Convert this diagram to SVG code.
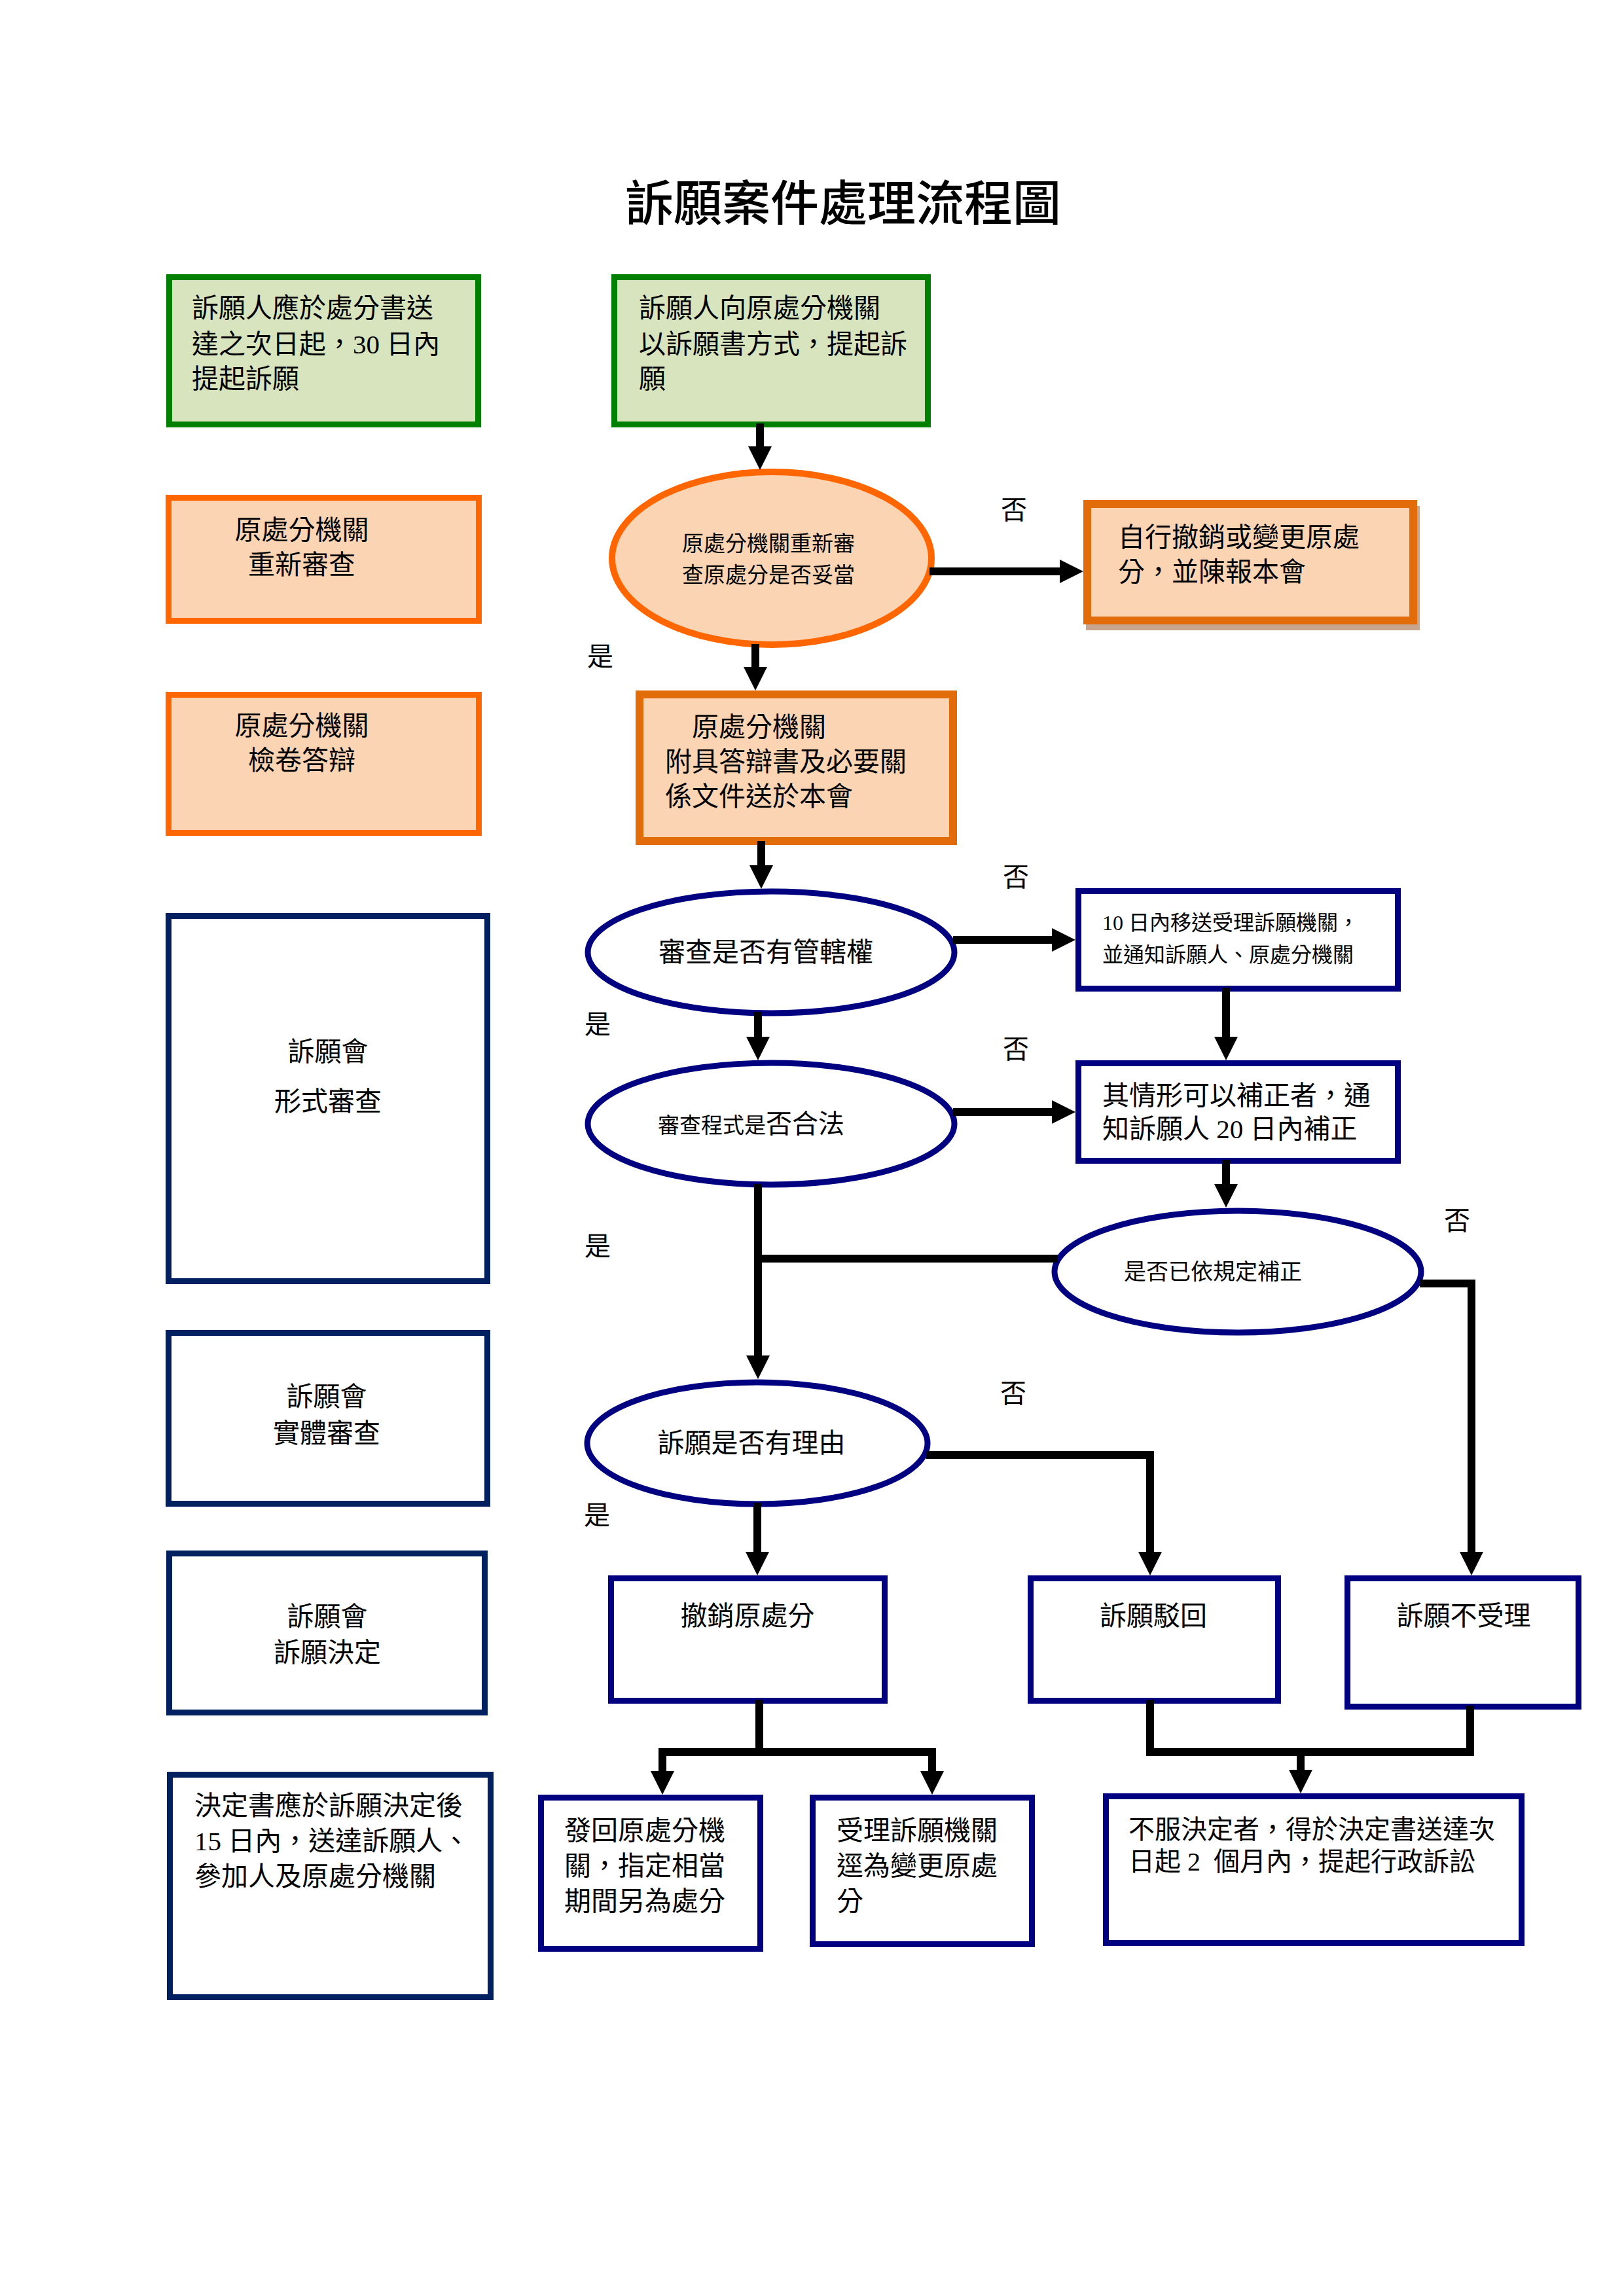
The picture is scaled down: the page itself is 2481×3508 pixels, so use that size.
<svg xmlns="http://www.w3.org/2000/svg" width="2481" height="3508" viewBox="0 0 2481 3508">
<style>
text{font-family:"Liberation Serif","Noto Sans CJK TC",serif;fill:#000}
.t41{font-size:41px}
.t33{font-size:33px}
.t32{font-size:32px}
.t40{font-size:40px}
.mid{text-anchor:middle}
.green{fill:#d7e4bd;stroke:#008000;stroke-width:9}
.org{fill:#fbd4b4;stroke:#ff6600;stroke-width:9}
.org2{fill:#fbd4b4;stroke:#e36c0a;stroke-width:12}
.navy{fill:#fff;stroke:#002060;stroke-width:9}
.blue{fill:#fff;stroke:#000080;stroke-width:9}
.conn{fill:none;stroke:#000;stroke-width:12;stroke-linecap:square;stroke-linejoin:miter}
</style>
<defs>
<marker id="ah" markerUnits="userSpaceOnUse" markerWidth="36" markerHeight="36" viewBox="0 0 36 36" refX="0" refY="18" orient="auto">
<path d="M0,0 L36,18 L0,36 z" fill="#000"/>
</marker>
</defs>
<rect width="2481" height="3508" fill="#fff"/>
<text x="1288" y="337" class="mid" style="font-size:74px;font-weight:500">訴願案件處理流程圖</text>

<g id="n-left-deadline">
<rect x="258.5" y="423.5" width="472" height="225" class="green"/>
<text class="t41" x="293" y="485">訴願人應於處分書送</text>
<text class="t41" x="293" y="540">達之次日起，30 日內</text>
<text class="t41" x="293" y="593">提起訴願</text>
</g>
<g id="n-file">
<rect x="938.5" y="423.5" width="479" height="225" class="green"/>
<text class="t41" x="976" y="485">訴願人向原處分機關</text>
<text class="t41" x="976" y="540">以訴願書方式，提起訴</text>
<text class="t41" x="976" y="593">願</text>
</g>
<g id="n-left-review">
<rect x="257.5" y="760.5" width="474" height="188" class="org"/>
<text class="t41 mid" x="461" y="824">原處分機關</text>
<text class="t41 mid" x="461" y="877">重新審查</text>
</g>
<g id="n-recheck">
<ellipse cx="1179" cy="853" rx="244" ry="132" fill="#fbd4b4" stroke="#ff6600" stroke-width="10"/>
<text class="t33 mid" x="1174" y="842">原處分機關重新審</text>
<text class="t33 mid" x="1174" y="890">查原處分是否妥當</text>
</g>
<g id="n-revoke-self">
<rect x="1659" y="773" width="510" height="190" fill="#c8a58f"/>
<rect x="1661" y="770" width="498" height="178" class="org2"/>
<text class="t41" x="1708" y="835">自行撤銷或變更原處</text>
<text class="t41" x="1708" y="888">分，並陳報本會</text>
</g>
<g id="n-left-answer">
<rect x="257.5" y="1061.5" width="474" height="211" class="org"/>
<text class="t41 mid" x="461" y="1123">原處分機關</text>
<text class="t41 mid" x="461" y="1176">檢卷答辯</text>
</g>
<g id="n-answer">
<rect x="977" y="1061" width="479" height="224" class="org2"/>
<text class="t41" x="1057" y="1125">原處分機關</text>
<text class="t41" x="1016" y="1178">附具答辯書及必要關</text>
<text class="t41" x="1016" y="1231">係文件送於本會</text>
</g>
<g id="n-left-formal">
<rect x="257.5" y="1399.5" width="487" height="558" class="navy"/>
<text class="t41 mid" x="501" y="1621">訴願會</text>
<text class="t41 mid" x="501" y="1697">形式審查</text>
</g>
<g id="n-jurisdiction">
<ellipse cx="1178" cy="1455" rx="280" ry="93" class="blue"/>
<text class="t41 mid" x="1170" y="1469">審查是否有管轄權</text>
</g>
<g id="n-transfer">
<rect x="1647.5" y="1361.5" width="488" height="149" class="blue"/>
<text class="t32" x="1684" y="1421">10 日內移送受理訴願機關，</text>
<text class="t32" x="1684" y="1470">並通知訴願人、原處分機關</text>
</g>
<g id="n-legal">
<ellipse cx="1178" cy="1717" rx="280" ry="93" class="blue"/>
<text x="1005" y="1731"><tspan style="font-size:33px">審查程式是</tspan><tspan style="font-size:40px">否合法</tspan></text>
</g>
<g id="n-correct">
<rect x="1647.5" y="1624.5" width="488" height="149" class="blue"/>
<text class="t41" x="1684" y="1688">其情形可以補正者，通</text>
<text class="t41" x="1684" y="1739">知訴願人 20 日內補正</text>
</g>
<g id="n-corrected">
<ellipse cx="1891" cy="1943" rx="280" ry="93" class="blue"/>
<text class="mid" style="font-size:34px" x="1853" y="1955">是否已依規定補正</text>
</g>
<g id="n-left-substance">
<rect x="257.5" y="2036.5" width="487" height="261" class="navy"/>
<text class="t41 mid" x="499" y="2148">訴願會</text>
<text class="t41 mid" x="499" y="2204">實體審查</text>
</g>
<g id="n-reason">
<ellipse cx="1157" cy="2205" rx="260" ry="93" class="blue"/>
<text class="t41 mid" x="1148" y="2219">訴願是否有理由</text>
</g>
<g id="n-left-decision">
<rect x="258.5" y="2373.5" width="482" height="243" class="navy"/>
<text class="t41 mid" x="500" y="2484">訴願會</text>
<text class="t41 mid" x="500" y="2539">訴願決定</text>
</g>
<g id="n-cancel">
<rect x="933.5" y="2411.5" width="418" height="187" class="blue"/>
<text class="t41 mid" x="1142" y="2483">撤銷原處分</text>
</g>
<g id="n-dismiss">
<rect x="1574.5" y="2411.5" width="378" height="187" class="blue"/>
<text class="t41 mid" x="1762" y="2483">訴願駁回</text>
</g>
<g id="n-reject">
<rect x="2058.5" y="2411.5" width="353" height="196" class="blue"/>
<text class="t41 mid" x="2236" y="2483">訴願不受理</text>
</g>
<g id="n-left-deliver">
<rect x="259.5" y="2711.5" width="490" height="340" class="navy"/>
<text class="t41" x="297" y="2773">決定書應於訴願決定後</text>
<text class="t41" x="297" y="2827">15 日內，送達訴願人、</text>
<text class="t41" x="297" y="2881">參加人及原處分機關</text>
</g>
<g id="n-return">
<rect x="826.5" y="2746.5" width="335" height="231" class="blue"/>
<text class="t41" x="862" y="2811">發回原處分機</text>
<text class="t41" x="862" y="2865">關，指定相當</text>
<text class="t41" x="862" y="2919">期間另為處分</text>
</g>
<g id="n-change">
<rect x="1241.5" y="2746.5" width="335" height="224" class="blue"/>
<text class="t41" x="1278" y="2811">受理訴願機關</text>
<text class="t41" x="1278" y="2865">逕為變更原處</text>
<text class="t41" x="1278" y="2919">分</text>
</g>
<g id="n-litigation">
<rect x="1689.5" y="2744.5" width="635" height="224" class="blue"/>
<text class="t40" x="1724" y="2809">不服決定者，得於決定書送達次</text>
<text class="t40" x="1724" y="2858">日起 2&#160; 個月內，提起行政訴訟</text>
</g>

<g id="connectors">
<path class="conn" d="M1161,653 V682" marker-end="url(#ah)"/>
<path class="conn" d="M1426,873 H1619" marker-end="url(#ah)"/>
<path class="conn" d="M1154,990 V1019" marker-end="url(#ah)"/>
<path class="conn" d="M1163,1291 V1322" marker-end="url(#ah)"/>
<path class="conn" d="M1462,1436 H1607" marker-end="url(#ah)"/>
<path class="conn" d="M1158,1552 V1584" marker-end="url(#ah)"/>
<path class="conn" d="M1873,1515 V1584" marker-end="url(#ah)"/>
<path class="conn" d="M1462,1699 H1607" marker-end="url(#ah)"/>
<path class="conn" d="M1873,1778 V1809" marker-end="url(#ah)"/>
<path class="conn" d="M1158,1815 V2071" marker-end="url(#ah)"/>
<path class="conn" d="M1158,1923 H1610"/>
<path class="conn" d="M2175,1961 H2248 V2371" marker-end="url(#ah)"/>
<path class="conn" d="M1421,2223 H1757 V2371" marker-end="url(#ah)"/>
<path class="conn" d="M1157,2302 V2371" marker-end="url(#ah)"/>
<path class="conn" d="M1160,2603 V2677"/>
<path class="conn" d="M1012,2677 H1424"/>
<path class="conn" d="M1012,2677 V2706" marker-end="url(#ah)"/>
<path class="conn" d="M1424,2677 V2706" marker-end="url(#ah)"/>
<path class="conn" d="M1757,2603 V2677 H2246 V2612"/>
<path class="conn" d="M1987,2677 V2704" marker-end="url(#ah)"/>
<text class="t40 mid" x="1549" y="793">否</text>
<text class="t40 mid" x="917" y="1017">是</text>
<text class="t40 mid" x="1552" y="1354">否</text>
<text class="t40 mid" x="913" y="1579">是</text>
<text class="t40 mid" x="1552" y="1617">否</text>
<text class="t40 mid" x="913" y="1918">是</text>
<text class="t40 mid" x="2226" y="1879">否</text>
<text class="t40 mid" x="1548" y="2143">否</text>
<text class="t40 mid" x="912" y="2329">是</text>
</g>
</svg>
